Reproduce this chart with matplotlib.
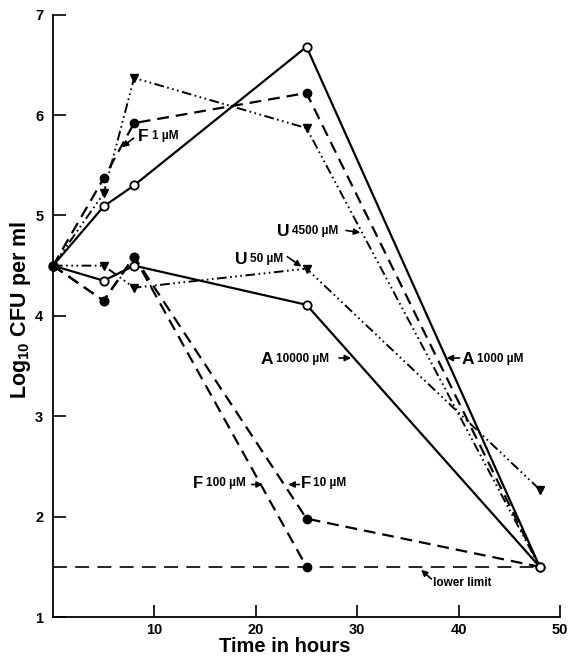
import matplotlib
matplotlib.use("Agg")
import matplotlib.pyplot as plt

plt.rcParams['font.family'] = ['Liberation Sans', 'DejaVu Sans']
plt.rcParams['font.weight'] = 'bold'
plt.rcParams['mathtext.fontset'] = 'custom'
plt.rcParams['mathtext.rm'] = 'Liberation Sans:bold'
plt.rcParams['mathtext.bf'] = 'Liberation Sans:bold'
plt.rcParams['mathtext.default'] = 'bf'
plt.rcParams['lines.scale_dashes'] = False

# ---- data (hours, log10 CFU/ml) ----
time = [0, 5, 8, 25, 48]
time_f100 = [0, 5, 8, 25]
a_1000 = [4.5, 5.09, 5.30, 6.68, 1.5]
a_10000 = [4.5, 4.35, 4.50, 4.11, 1.5]
f_1 = [4.5, 5.37, 5.92, 6.22, 1.5]
f_10 = [4.5, 4.15, 4.59, 1.98, 1.5]
f_100 = [4.5, 4.15, 4.59, 1.5]
u_50 = [4.5, 4.5, 4.28, 4.47, 2.27]
u_4500 = [4.5, 5.22, 6.37, 5.87, 1.5]
lower_limit = 1.5
x_ticks = [10, 20, 30, 40, 50]
y_ticks = [1, 2, 3, 4, 5, 6, 7]

fig = plt.figure(figsize=(5.68, 6.58), dpi=100)
ax = fig.add_axes([0.0933, 0.0623, 0.8927, 0.9154])

LW = 1.6
MS = 6
dashed = (0, (8.5, 5))
dashdot3 = (0, (7, 2.5, 1.2, 2.5, 1.2, 2.5, 1.2, 2.5))

# lower limit
ax.plot([0, 48], [lower_limit, lower_limit], color='black', lw=1.2,
        linestyle=(0, (10, 6)), zorder=1)

# F series (dashed, filled circles)
ax.plot(time, f_1, color='black', lw=LW, linestyle=dashed, zorder=2)
ax.plot(time[:-1], f_1[:-1], linestyle='none', marker='o', ms=MS,
        color='black', zorder=4)
ax.plot(time, f_10, color='black', lw=LW, linestyle=dashed, zorder=2)
ax.plot(time[:-1], f_10[:-1], linestyle='none', marker='o', ms=MS,
        color='black', zorder=4)
ax.plot(time_f100, f_100, color='black', lw=LW, linestyle=dashed,
        marker='o', ms=MS, zorder=2)

# U series (dash-dot-dot, filled down triangles)
ax.plot(time, u_4500, color='black', lw=1.4, linestyle=dashdot3, zorder=2)
ax.plot(time[1:-1], u_4500[1:-1], linestyle='none', marker='v', ms=MS,
        color='black', zorder=4)
ax.plot(time, u_50, color='black', lw=1.4, linestyle=dashdot3, zorder=2)
ax.plot(time[1:], u_50[1:], linestyle='none', marker='v', ms=MS,
        color='black', zorder=4)

# A series (solid, open circles)
for y in (a_1000, a_10000):
    ax.plot(time, y, color='black', lw=LW, linestyle='-', marker='o', ms=MS,
            markerfacecolor='white', markeredgecolor='black', mew=1.3,
            zorder=3)
# common start point (filled)
ax.plot([0], [4.5], marker='o', ms=6.5, color='black', zorder=5,
        clip_on=False)

ax.set_xlim(0, 50)
ax.set_ylim(1, 7)
ax.spines['top'].set_visible(False)
ax.spines['right'].set_visible(False)
for s in ('left', 'bottom'):
    ax.spines[s].set_linewidth(1.3)
ax.set_xticks(x_ticks)
ax.set_yticks(y_ticks)
ax.tick_params(direction='in', length=9, width=1.2, labelsize=10.5)
ax.tick_params(axis='y', pad=7)
ax.tick_params(axis='x', pad=4)
for lab in ax.get_xticklabels() + ax.get_yticklabels():
    lab.set_fontweight('bold')

fig.text(285 / 568, 1 - 647 / 658, 'Time in hours', ha='center', va='center',
         fontsize=14.5, fontweight='bold')
fig.text(21 / 568, 1 - 310 / 658, 'Log$_{10}$ CFU per ml', ha='center',
         va='center', rotation=90, fontsize=15.5, fontweight='bold')

arrow_kw = dict(arrowstyle='-|>', color='black', lw=1.2, mutation_scale=9,
                shrinkA=0, shrinkB=0)


def label(x, y, big, small, big_size=12.5):
    t = ax.text(x, y, big, fontsize=big_size, fontweight='bold',
                ha='left', va='center')
    ax.annotate(small, xy=(1, 0.12), xycoords=t, xytext=(2, 0),
                textcoords='offset points', fontsize=8.5, fontweight='bold',
                ha='left', va='bottom')


def arrow(tail, tip):
    ax.annotate('', xy=tip, xytext=tail, arrowprops=arrow_kw)


label(8.4, 5.79, 'F', '1 µM')
arrow((7.95, 5.77), (6.8, 5.68))

label(22.1, 4.84, 'U', '4500 µM')
arrow((28.9, 4.85), (30.3, 4.83))

label(17.9, 4.56, 'U', '50 µM')
arrow((23.1, 4.59), (24.5, 4.49))

label(20.5, 3.57, 'A', '10000 µM')
arrow((28.2, 3.58), (29.4, 3.58))

label(40.3, 3.57, 'A', '1000 µM')
arrow((40.1, 3.58), (38.8, 3.58))

label(13.8, 2.33, 'F', '100 µM', 12)
arrow((19.6, 2.32), (20.7, 2.32))

label(24.4, 2.33, 'F', '10 µM', 12)
arrow((24.3, 2.32), (23.2, 2.32))

ax.text(37.5, 1.34, 'lower limit', fontsize=8.5, fontweight='bold',
        ha='left', va='center')
arrow((37.3, 1.38), (36.3, 1.47))

fig.savefig('out.png', dpi=100)
